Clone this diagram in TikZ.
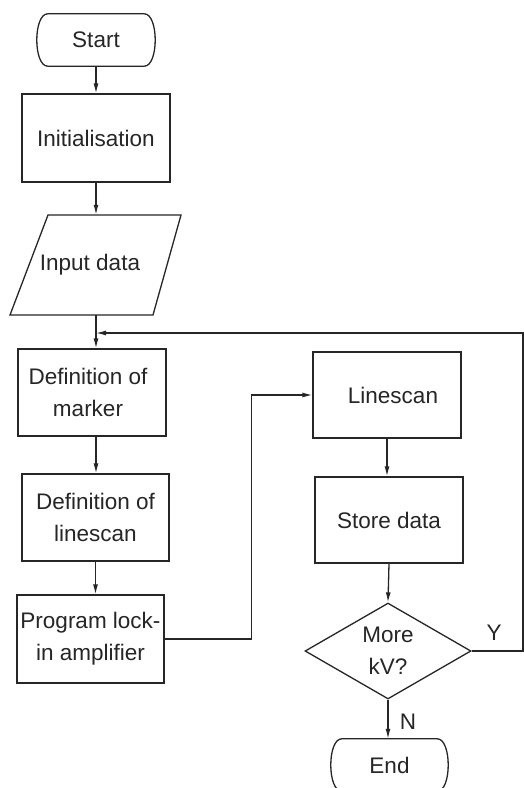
\documentclass[tikz,border=0pt]{standalone}
\usepackage{fontspec}
\setmainfont{Liberation Sans}
\usetikzlibrary{shapes.geometric,arrows.meta,calc}
\begin{document}
\begin{tikzpicture}[x=1pt,y=-1pt,
  ink/.style={draw=black!85, line width=1.3pt},
  txt/.style={font=\fontsize{22.5}{32}\selectfont, text=black!85, align=center, inner sep=0pt},
  procbox/.style={txt, ink, rectangle, minimum width=#1, minimum height=87},
  ghost/.style={txt, rectangle, minimum width=#1, minimum height=52},
  decision/.style={txt, ink, diamond, shape aspect=1.73, minimum width=166, minimum height=96},
  flow/.style={ink, -{Latex[length=10pt,width=5pt]}},
  lbl/.style={font=\fontsize{22.5}{25}\selectfont, text=black!85, inner sep=0pt}]
\useasboundingbox (0,0) rectangle (524,788);
\fill[white] (0,0) rectangle (524,788);

% nodes
\node[ghost=118] (start) at (96,40) {Start};
\node[procbox=148, minimum height=88] (init) at (96,138) {Initialisation};
\node[txt, rectangle, minimum width=1, minimum height=100] (input) at (96,265) {\hspace*{-12pt}Input data};
\node[procbox=148] (marker) at (92,392.5) {\hspace*{-8pt}Definition of\\\hspace*{-8pt}marker};
\node[procbox=147] (lsdef) at (95.5,517.5) {Definition of\\linescan};
\node[procbox=147, minimum height=88] (prog) at (90.5,639) {Program lock-\\in amplifier};
\node[procbox=148, minimum height=86] (ls) at (387,395) {\hspace*{12pt}Linescan};
\node[procbox=148, minimum height=86] (store) at (389,520) {Store data};
\node[decision] (dec) at (388,651) {More\\kV?};
\node[ghost=117] (stop) at (389.5,765) {End};
\node[lbl] (ylab) at (494,633) {Y};
\node[lbl] (nlab) at (408,722) {N};
\coordinate (rr) at (523,333);
\coordinate (jn) at (96,333);

% terminal outlines
\foreach \n in {start,stop}{
  \draw[ink] ([xshift=11]\n.north west) -- ([xshift=-11]\n.north east)
    .. controls ([xshift=3.7]\n.north east) and ([xshift=3.7]\n.south east) .. ([xshift=-11]\n.south east)
    -- ([xshift=11]\n.south west)
    .. controls ([xshift=-3.7]\n.south west) and ([xshift=-3.7]\n.north west) .. cycle;
}
% input parallelogram
\draw[ink] (48,215) -- (181,215) -- (153,315) -- (10,315) -- cycle;

% connectors
\draw[flow] (start) -- (init);
\draw[flow] (init) -- (input.north);
\draw[flow] (input.south) -- (input.south |- marker.north);
\draw[flow] (jn |- marker.south) -- (jn |- lsdef.north);
\draw[flow] (lsdef.south) -- (lsdef.south |- prog.north);
\draw[flow] (prog.east) -- ++(87,0) |- (ls.west);
\draw[flow] (ls.south) -- (ls.south |- store.north);
\draw[flow] (store.south) -- (dec.north);
\draw[flow] (dec.south) -- (dec.south |- stop.north);
\draw[flow] (dec.east) -| (rr) -- (jn);
\end{tikzpicture}
\end{document}
